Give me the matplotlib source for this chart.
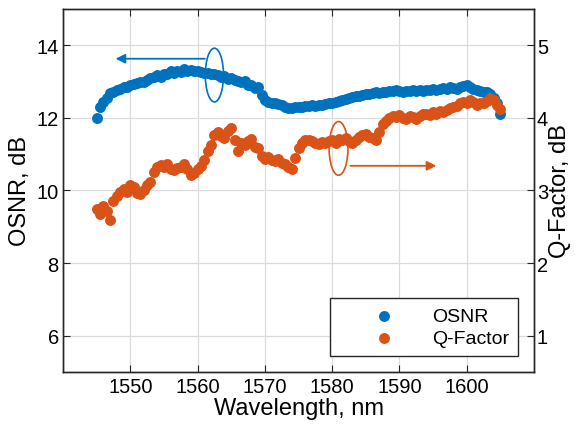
import numpy as np
import matplotlib
matplotlib.use('Agg')
from matplotlib import pyplot as plt
from matplotlib.patches import Ellipse

plt.rcParams['font.family'] = ['Liberation Sans', 'DejaVu Sans']

# OSNR (dB), one value every 0.5 nm from 1545 to 1605 nm
osnr = [12.00, 12.30, 12.45, 12.55, 12.68, 12.72, 12.78, 12.80, 12.86, 12.84,
        12.90, 12.93, 12.97, 13.00, 12.98, 13.05, 13.10, 13.12, 13.18, 13.14,
        13.22, 13.20, 13.28, 13.24, 13.30, 13.27, 13.34, 13.30, 13.32, 13.28,
        13.30, 13.27, 13.24, 13.25, 13.20, 13.22, 13.18, 13.12, 13.15, 13.08,
        13.10, 13.05, 13.02, 12.98, 13.02, 12.90, 12.92, 12.82, 12.85, 12.62,
        12.48, 12.45, 12.42, 12.40, 12.38, 12.36, 12.30, 12.26, 12.28, 12.30,
        12.31, 12.30, 12.33, 12.32, 12.35, 12.34, 12.36, 12.35, 12.38, 12.40,
        12.42, 12.45, 12.46, 12.48, 12.52, 12.55, 12.57, 12.60, 12.61, 12.64,
        12.65, 12.67, 12.68, 12.70, 12.69, 12.72, 12.71, 12.74, 12.73, 12.76,
        12.75, 12.72, 12.75, 12.74, 12.76, 12.73, 12.77, 12.75, 12.78, 12.76,
        12.80, 12.78, 12.80, 12.82, 12.80, 12.84, 12.82, 12.80, 12.85, 12.88,
        12.92, 12.85, 12.80, 12.76, 12.74, 12.70, 12.70, 12.65, 12.55, 12.40,
        12.12]

# Q-Factor (dB), same wavelengths
qfactor = [2.75, 2.68, 2.78, 2.72, 2.60, 2.85, 2.92, 2.98, 3.02, 2.98,
           3.08, 3.05, 2.97, 2.95, 3.00, 3.08, 3.12, 3.25, 3.33, 3.35,
           3.33, 3.36, 3.30, 3.28, 3.31, 3.33, 3.36, 3.30, 3.22, 3.24,
           3.30, 3.34, 3.42, 3.55, 3.62, 3.76, 3.80, 3.75, 3.72, 3.82,
           3.86, 3.70, 3.55, 3.66, 3.62, 3.68, 3.71, 3.60, 3.58, 3.48,
           3.43, 3.46, 3.42, 3.40, 3.44, 3.38, 3.36, 3.33, 3.30, 3.45,
           3.58, 3.66, 3.69, 3.70, 3.68, 3.66, 3.64, 3.67, 3.65, 3.68,
           3.70, 3.66, 3.71, 3.70, 3.72, 3.68, 3.66, 3.70, 3.74, 3.76,
           3.78, 3.74, 3.72, 3.70, 3.80, 3.92, 3.96, 4.00, 4.02, 4.01,
           4.04, 4.00, 3.98, 4.03, 4.01, 3.98, 4.02, 4.05, 4.06, 4.04,
           4.08, 4.06, 4.10, 4.08, 4.11, 4.13, 4.15, 4.17, 4.20, 4.22,
           4.21, 4.24, 4.22, 4.18, 4.21, 4.20, 4.23, 4.27, 4.24, 4.18,
           4.12]

wl_start, wl_end = 1545, 1605
wavelength = np.linspace(wl_start, wl_end, len(osnr))

blue = '#0072BD'
orange = '#D95319'

fig = plt.figure(figsize=(5.75, 4.31), dpi=100)
ax1 = fig.add_axes([0.1096, 0.1346, 0.8191, 0.8422])
ax2 = ax1.twinx()

ax1.scatter(wavelength, osnr, s=62, color=blue, linewidths=0, label='OSNR', zorder=3)
ax2.scatter(wavelength, qfactor, s=62, color=orange, linewidths=0, label='Q-Factor', zorder=3)

ax1.set_xlim(1540, 1610)
ax1.set_ylim(5, 15)
ax2.set_ylim(0.5, 5.5)
ax1.set_xticks([1550, 1560, 1570, 1580, 1590, 1600])
ax1.set_yticks([6, 8, 10, 12, 14])
ax2.set_yticks([1, 2, 3, 4, 5])

ax1.grid(True, color='#dcdcdc', linewidth=0.9)
ax1.set_axisbelow(True)
ax1.tick_params(axis='x', direction='in', top=True, labelsize=14.5, length=5, color='#262626')
ax1.tick_params(axis='y', direction='in', labelsize=14.5, length=5, color='#262626', pad=3)
ax2.tick_params(axis='y', direction='in', labelsize=14.5, length=5, color='#262626', pad=2)
for ax in (ax1, ax2):
    for sp in ax.spines.values():
        sp.set_color('#262626')
        sp.set_linewidth(1.0)

ax1.set_xlabel('Wavelength, nm', fontsize=17, labelpad=1)
ax1.set_ylabel('OSNR, dB', fontsize=17, labelpad=4)
ax2.set_ylabel('Q-Factor, dB', fontsize=17, labelpad=1)

# blue marker: ellipse with arrow pointing to the left axis
ax1.add_patch(Ellipse((1562.5, 13.18), 2.7, 1.48, fill=False, edgecolor=blue, linewidth=1.2, zorder=4))
ax1.annotate('', xy=(1547.4, 13.63), xytext=(1561.5, 13.63),
             arrowprops=dict(arrowstyle='-|>', color=blue, lw=1.3, mutation_scale=14))
# orange marker: ellipse with arrow pointing to the right axis
ax2.add_patch(Ellipse((1580.95, 3.58), 2.8, 0.74, fill=False, edgecolor=orange, linewidth=1.2, zorder=4))
ax2.annotate('', xy=(1595.9, 3.34), xytext=(1582.3, 3.34),
             arrowprops=dict(arrowstyle='-|>', color=orange, lw=1.3, mutation_scale=14))

h1, l1 = ax1.get_legend_handles_labels()
h2, l2 = ax2.get_legend_handles_labels()
leg = ax2.legend(h1 + h2, l1 + l2, loc='lower right', bbox_to_anchor=(0.966, 0.044),
                 borderaxespad=0, fontsize=14, scatterpoints=1, handlelength=4.6,
                 handletextpad=0.2, labelspacing=0.25, borderpad=0.45, fancybox=False,
                 framealpha=1, edgecolor='#262626')
leg.get_frame().set_linewidth(1.0)

plt.savefig('out.png', dpi=100)
